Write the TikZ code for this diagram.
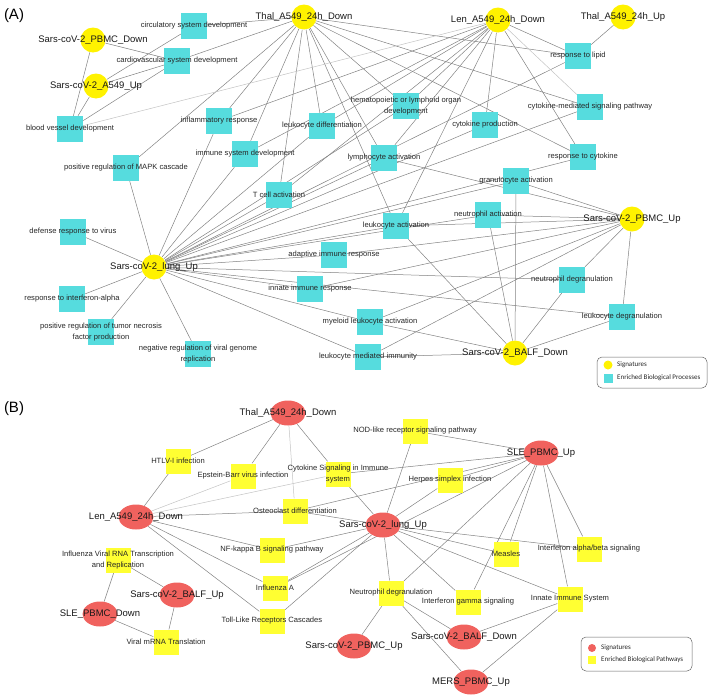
\documentclass[tikz,border=0pt]{standalone}
\usepackage{fontspec}
\setmainfont{Liberation Sans}
\newfontfamily\legfont{Carlito}
\usetikzlibrary{shapes.geometric}
\pgfdeclarelayer{bg}
\pgfsetlayers{bg,main}
\definecolor{cyanN}{RGB}{86,220,222}
\definecolor{yelA}{RGB}{255,242,0}
\definecolor{yelB}{RGB}{255,255,50}
\definecolor{redN}{RGB}{240,98,94}
\definecolor{edgeC}{RGB}{130,130,130}
\definecolor{edgeL}{RGB}{195,195,195}
\tikzset{
  sigA/.style={circle, fill=yelA, minimum size=25pt, inner sep=0pt},
  procA/.style={rectangle, fill=cyanN, minimum size=26pt, inner sep=0pt},
  sigB/.style={ellipse, fill=redN, minimum width=35pt, minimum height=25pt, inner sep=0pt},
  procB/.style={rectangle, fill=yelB, minimum size=25pt, inner sep=0pt},
  slab/.style={font=\fontsize{9.5}{11}\selectfont, text=black!90, inner sep=0pt},
  plab/.style={font=\fontsize{7.6}{10.5}\selectfont, align=center, text=black!85, inner sep=0pt},
  edgeline/.style={draw=edgeC, line width=0.5pt},
  ledge/.style={draw=edgeL, line width=0.5pt},
  leglab/.style={font=\legfont\fontsize{7}{8}\selectfont, anchor=west, inner sep=0pt, text=black!85},
  panellab/.style={font=\fontsize{15}{17}\selectfont, inner sep=0pt}
}
\begin{document}
\begin{tikzpicture}[x=1pt, y=-1pt]
\useasboundingbox (0,0) rectangle (709,696);
\node[panellab] (labA) at (14,16) {(A)};
\node[panellab] (labB) at (14,409) {(B)};

% ---------------- Panel A: processes
\node[procA, label={[plab]center:circulatory system development}] (circ) at (194,26) {};
\node[procA, label={[plab]center:cardiovascular system development}] (cardio) at (177,61) {};
\node[procA, label={[plab]center:blood vessel development}] (blood) at (70,129) {};
\node[procA, label={[plab]center:inflammatory response}] (inflam) at (219,121) {};
\node[procA, label={[plab]center:immune system development}] (imsys) at (245,154) {};
\node[procA, label={[plab]center:leukocyte differentiation}] (leukdiff) at (322,126) {};
\node[procA, label={[plab]center:positive regulation of MAPK cascade}] (mapk) at (126,168) {};
\node[procA, label={[plab]center:{hematopoietic or lymphoid organ\\development}}] (hema) at (406,106) {};
\node[procA, label={[plab]center:cytokine production}] (cytprod) at (485,125) {};
\node[procA, label={[plab]center:lymphocyte activation}] (lymph) at (384,158) {};
\node[procA, label={[plab]center:response to lipid}] (lipid) at (578,56) {};
\node[procA, label={[plab]center:cytokine-mediated signaling pathway}] (cytmed) at (590,107) {};
\node[procA, label={[plab]center:response to cytokine}] (respcyt) at (583,157) {};
\node[procA, label={[plab]center:granulocyte activation}] (gran) at (516,181) {};
\node[procA, label={[plab]center:T cell activation}] (tcell) at (279,195) {};
\node[procA, label={[plab]center:neutrophil activation}] (neutact) at (488,215) {};
\node[procA, label={[plab]center:leukocyte activation}] (leukact) at (396,226) {};
\node[procA, label={[plab]center:defense response to virus}] (defense) at (73,232) {};
\node[procA, label={[plab]center:adaptive immune response}] (adapt) at (334,255) {};
\node[procA, label={[plab]center:innate immune response}] (innate) at (310,289) {};
\node[procA, label={[plab]center:response to interferon-alpha}] (ifna) at (72,299) {};
\node[procA, label={[plab]center:{positive regulation of tumor necrosis\\factor production}}] (tnf) at (101,332) {};
\node[procA, label={[plab]center:{negative regulation of viral genome\\replication}}] (negvir) at (198,354) {};
\node[procA, label={[plab]center:neutrophil degranulation}] (neutdeg) at (572,280) {};
\node[procA, label={[plab]center:myeloid leukocyte activation}] (myel) at (370,322) {};
\node[procA, label={[plab]center:leukocyte degranulation}] (leukdeg) at (622,317) {};
\node[procA, label={[plab]center:leukocyte mediated immunity}] (leukmed) at (368,357) {};

% ---------------- Panel A: signatures
\node[sigA, label={[slab]center:Thal\_A549\_24h\_Down}] (tdA) at (304,17) {};
\node[sigA, label={[slab]center:Sars-coV-2\_PBMC\_Down}] (pdA) at (93,40) {};
\node[sigA, label={[slab]center:Sars-coV-2\_A549\_Up}] (a549A) at (96,86) {};
\node[sigA, label={[slab]center:Len\_A549\_24h\_Down}] (lenA) at (498,20) {};
\node[sigA, label={[slab]center:Thal\_A549\_24h\_Up}] (tupA) at (623,17) {};
\node[sigA, label={[slab]center:Sars-coV-2\_lung\_Up}] (lungA) at (154,267) {};
\node[sigA, label={[slab]center:Sars-coV-2\_PBMC\_Up}] (pupA) at (632,219) {};
\node[sigA, label={[slab]center:Sars-coV-2\_BALF\_Down}] (baldA) at (515,353) {};

% ---------------- Panel B: processes
\node[procB, label={[plab]center:HTLV-I infection}] (htlv) at (178,461) {};
\node[procB, label={[plab]center:Epstein-Barr virus infection}] (ebv) at (243,476) {};
\node[procB, label={[plab]center:{Cytokine Signaling in Immune\\system}}] (cytsig) at (338,474) {};
\node[procB, label={[plab]center:Osteoclast differentiation}] (osteo) at (295,511) {};
\node[procB, label={[plab]center:NOD-like receptor signaling pathway}] (nod) at (415,431) {};
\node[procB, label={[plab]center:Herpes simplex infection}] (herpes) at (450,480) {};
\node[procB, label={[plab]center:NF-kappa B signaling pathway}] (nfkb) at (272,550) {};
\node[procB, label={[plab]center:{Influenza Viral RNA Transcription\\and Replication}}] (flurna) at (118,560) {};
\node[procB, label={[plab]center:Influenza A}] (infa) at (275,588) {};
\node[procB, label={[plab]center:Toll-Like Receptors Cascades}] (tlr) at (272,621) {};
\node[procB, label={[plab]center:Viral mRNA Translation}] (viralm) at (166,642) {};
\node[procB, label={[plab]center:Measles}] (measles) at (506,554) {};
\node[procB, label={[plab]center:Interferon alpha/beta signaling}] (ifnab) at (589,549) {};
\node[procB, label={[plab]center:Neutrophil degranulation}] (neutdegB) at (391,593) {};
\node[procB, label={[plab]center:Interferon gamma signaling}] (ifng) at (468,602) {};
\node[procB, label={[plab]center:Innate Immune System}] (innateB) at (570,599) {};

% ---------------- Panel B: signatures
\node[sigB, label={[slab]center:Thal\_A549\_24h\_Down}] (tdB) at (288,413) {};
\node[sigB, label={[slab]center:Len\_A549\_24h\_Down}] (lenB) at (136,517) {};
\node[sigB, label={[slab]center:SLE\_PBMC\_Up}] (sleup) at (541,453) {};
\node[sigB, label={[slab]center:Sars-coV-2\_lung\_Up}] (lungB) at (383,525) {};
\node[sigB, label={[slab]center:Sars-coV-2\_BALF\_Up}] (balfup) at (177,595) {};
\node[sigB, label={[slab]center:SLE\_PBMC\_Down}] (sledown) at (100,614) {};
\node[sigB, label={[slab]center:Sars-coV-2\_PBMC\_Up}] (pupB) at (354,646) {};
\node[sigB, label={[slab]center:Sars-coV-2\_BALF\_Down}] (baldB) at (464,637) {};
\node[sigB, label={[slab]center:MERS\_PBMC\_Up}] (mers) at (471,682) {};

% ---------------- Legends
\draw[rounded corners=5pt, draw=black!60, line width=0.5pt] (597,357) rectangle (707,388);
\node[circle, fill=yelA, minimum size=9pt, inner sep=0pt] (lgA1) at (608,365) {};
\node[leglab] (lgA1t) at (617,365) {Signatures};
\node[rectangle, fill=cyanN, minimum size=9pt, inner sep=0pt] (lgA2) at (608,378) {};
\node[leglab] (lgA2t) at (617,378) {Enriched Biological Processes};

\draw[rounded corners=5pt, draw=black!60, line width=0.5pt] (581,637) rectangle (692,671);
\node[circle, fill=redN, minimum size=8pt, inner sep=0pt] (lgB1) at (592,648) {};
\node[leglab] (lgB1t) at (601,648) {Signatures};
\node[rectangle, fill=yelB, minimum size=8pt, inner sep=0pt] (lgB2) at (592,660) {};
\node[leglab] (lgB2t) at (601,660) {Enriched Biological Pathways};

% ---------------- Edges
\begin{pgfonlayer}{bg}
\foreach \a/\b in {pdA/blood, pdA/cardio, a549A/blood, a549A/circ, a549A/cardio,
  tdA/circ, tdA/cardio, tdA/inflam, tdA/imsys, tdA/leukdiff, tdA/tcell, tdA/lymph, tdA/leukact,
  tdA/hema, tdA/lipid, tdA/cytmed, tdA/respcyt, tdA/mapk, blood/cardio,
  lenA/inflam, lenA/imsys, lenA/leukdiff, lenA/hema, lenA/lymph, lenA/tcell, lenA/leukact,
  lenA/cytprod, lenA/lipid, lenA/respcyt, tupA/lipid,
  lungA/mapk, lungA/defense, lungA/ifna, lungA/tnf, lungA/negvir, lungA/inflam, lungA/imsys,
  lungA/leukdiff, lungA/tcell, lungA/lymph, lungA/hema, lungA/leukact, lungA/adapt, lungA/innate,
  lungA/myel, lungA/leukmed, lungA/neutdeg, lungA/leukdeg, lungA/gran, lungA/neutact,
  lungA/cytprod, lungA/respcyt, lungA/cytmed, lungA/lipid,
  pupA/gran, pupA/neutact, pupA/leukact, pupA/adapt, pupA/innate, pupA/neutdeg, pupA/leukdeg,
  pupA/myel, pupA/leukmed, pupA/lymph,
  baldA/gran, baldA/neutact, baldA/leukact, baldA/neutdeg, baldA/leukdeg, baldA/myel, baldA/leukmed,
  tdB/htlv, tdB/ebv, tdB/cytsig,
  lenB/htlv, lenB/osteo, lenB/nfkb, lenB/infa, lenB/tlr,
  lungB/cytsig, lungB/nod, lungB/herpes, lungB/osteo, lungB/nfkb, lungB/infa, lungB/tlr,
  lungB/neutdegB, lungB/ifng, lungB/measles, lungB/ifnab, lungB/innateB,
  sleup/nod, sleup/cytsig, sleup/osteo, sleup/herpes, sleup/infa, sleup/neutdegB, sleup/ifng,
  sleup/measles, sleup/ifnab, sleup/innateB,
  balfup/flurna, balfup/viralm, sledown/flurna, sledown/viralm,
  pupB/neutdegB, baldB/neutdegB, baldB/innateB, mers/neutdegB, mers/innateB}
  \draw[edgeline] (\a) -- (\b);
\foreach \a/\b in {lenA/blood, lenA/cytmed, tdB/osteo, lenB/ebv, lenB/cytsig}
  \draw[ledge] (\a) -- (\b);
\end{pgfonlayer}
\end{tikzpicture}
\end{document}
